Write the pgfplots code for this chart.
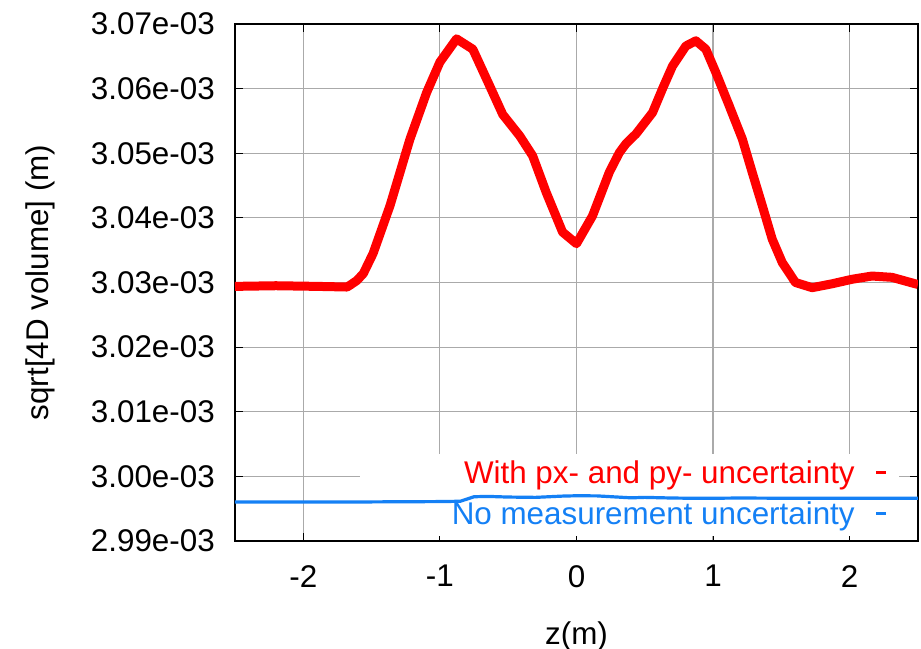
\documentclass[border=0pt]{standalone}
\usepackage{fontspec}
\setmainfont{Liberation Sans}
\usepackage{pgfplots}
\pgfplotsset{compat=1.18}
\definecolor{myred}{rgb}{1,0,0}
\definecolor{myblue}{RGB}{20,128,245}
\definecolor{gridgray}{RGB}{170,170,170}
\begin{document}
\begin{tikzpicture}
\begin{axis}[
  scale only axis,
  width=683bp, height=517bp,
  at={(0,0)}, anchor=south west,
  xmin=-2.5, xmax=2.5,
  ymin=2.99, ymax=3.07,
  xtick={-2,-1,0,1,2},
  xticklabels={-2,-1,0,1,2},
  ytick={2.99,3.00,3.01,3.02,3.03,3.04,3.05,3.06,3.07},
  yticklabels={2.99e-03,3.00e-03,3.01e-03,3.02e-03,3.03e-03,3.04e-03,3.05e-03,3.06e-03,3.07e-03},
  tick align=inside,
  major tick length=8bp,
  tick style={black, line width=1bp},
  grid=major,
  major grid style={gridgray, line width=1.2bp},
  axis line style={black, line width=1.5bp},
  tick label style={font=\fontsize{31.5}{36}\selectfont, inner sep=0pt},
  xticklabel shift=24bp,
  yticklabel shift=20bp,
  xlabel={z(m)},
  ylabel={sqrt[4D volume] (m)},
  label style={font=\fontsize{31.5}{36}\selectfont},
  xlabel style={at={(axis description cs:0.5,-0.1838)}, anchor=center},
  ylabel style={at={(axis description cs:-0.2855,0.5)}, anchor=center},
  legend plot pos=right,
  legend cell align=right,
  legend image code/.code={\draw[#1, line width=3bp] (0bp,3bp) -- (10bp,3bp);},
  legend style={draw=none, fill=none, font=\fontsize{31.5}{36}\selectfont,
    at={(axis description cs:0.9560,0.1586)}, anchor=north east,
    row sep=9bp, column sep=18bp, inner sep=0pt,
    nodes={inner sep=2bp, text height=22bp, text depth=6bp}},
]
\fill[white] (axis cs:-1.584,2.9908) rectangle (axis cs:2.358,3.0034);
\addplot[myred, line width=9bp, line join=round] coordinates {
(-2.5,3.0294) (-2.2,3.0295) (-1.9,3.0294) (-1.68,3.0293) (-1.657,3.0296)
(-1.608,3.0303) (-1.56,3.0314) (-1.489,3.0345) (-1.365,3.0419)
(-1.219,3.0522) (-1.097,3.0594) (-1.0,3.0641) (-0.878,3.0677) (-0.759,3.0661)
(-0.635,3.0604) (-0.540,3.0560) (-0.416,3.0527) (-0.321,3.0496) (-0.221,3.0439)
(-0.102,3.0378) (0.0,3.0360) (0.117,3.0403) (0.241,3.0471) (0.314,3.0501)
(0.363,3.0515) (0.436,3.0530) (0.557,3.0563) (0.630,3.0600) (0.703,3.0635)
(0.801,3.0666) (0.874,3.0674) (0.947,3.0661) (1.020,3.0625) (1.117,3.0574)
(1.214,3.0522) (1.287,3.0470) (1.360,3.0419) (1.433,3.0367) (1.506,3.0331)
(1.603,3.0300) (1.725,3.0292) (1.871,3.0298) (2.017,3.0305) (2.163,3.0310)
(2.309,3.0308) (2.480,3.0298) (2.5,3.0297)
};
\addlegendentry[text=myred]{With px- and py- uncertainty}
\addplot[myblue, line width=3.2bp] coordinates {
(-2.5,2.99603) (-1.5,2.99605) (-1.0,2.99610) (-0.85,2.99615) (-0.75,2.99685)
(-0.65,2.99690) (-0.5,2.99680) (-0.3,2.99675) (-0.1,2.99695) (0.0,2.99700)
(0.15,2.99698) (0.3,2.99680) (0.4,2.99668) (0.5,2.99675) (0.7,2.99665)
(0.9,2.99660) (1.2,2.99665) (1.5,2.99662) (2.0,2.99662) (2.5,2.99662)
};
\addlegendentry[text=myblue]{No measurement uncertainty}
\end{axis}
\pgfresetboundingbox
\path (-235bp,-108bp) rectangle (686bp,541bp);
\end{tikzpicture}
\end{document}
